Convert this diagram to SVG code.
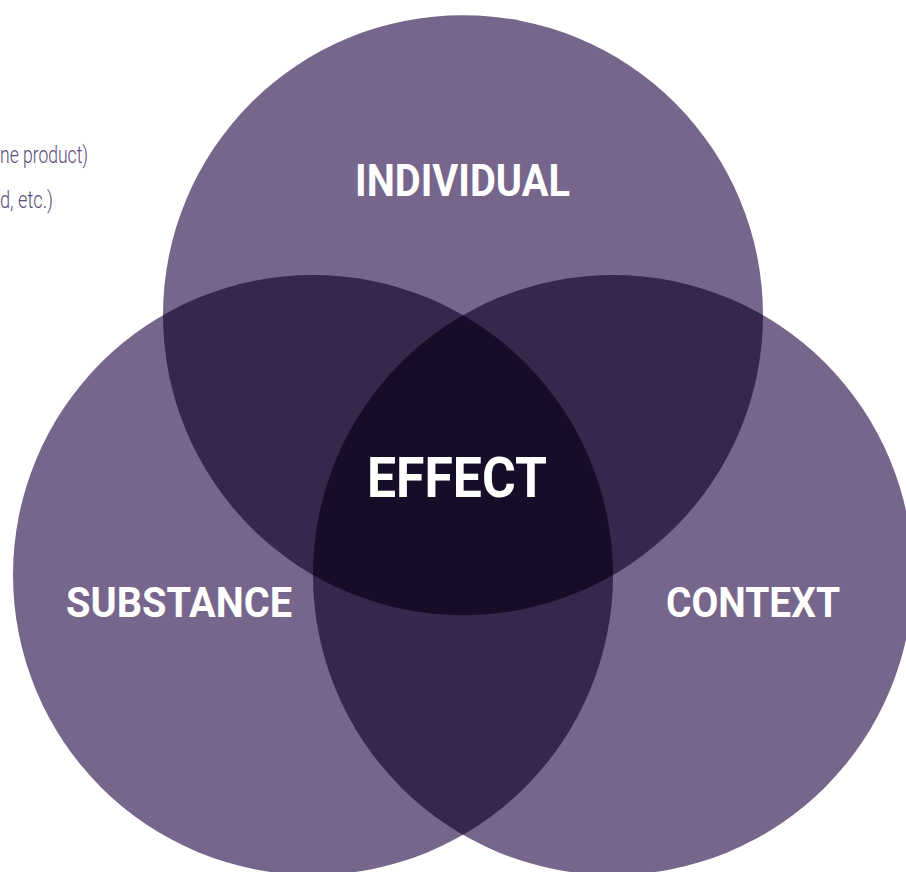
<svg xmlns="http://www.w3.org/2000/svg" width="906" height="872" viewBox="0 0 906 872">
<style>
.c1{fill:#76668c}
.c2{fill:#38274d}
.c3{fill:#170d28}
.lbl{font-family:Roboto,"Liberation Sans",sans-serif;font-weight:700;fill:#ffffff}
.note{font-family:Roboto,"Liberation Sans",sans-serif;font-weight:300;fill:#5a4a78;font-size:24px}
</style>
<defs>
<clipPath id="clipT"><circle cx="463" cy="315.2" r="300"/></clipPath>
<clipPath id="clipL"><circle cx="313" cy="575" r="300"/></clipPath>
<clipPath id="clipR"><circle cx="613" cy="575" r="300"/></clipPath>
</defs>
<rect width="906" height="872" fill="#ffffff"/>
<g id="notes">
<text class="note" x="0" y="163" textLength="88" lengthAdjust="spacingAndGlyphs">ne product)</text>
<text class="note" x="0" y="208" textLength="53" lengthAdjust="spacingAndGlyphs">d, etc.)</text>
</g>
<g id="individual">
<circle class="c1" cx="463" cy="315.2" r="300"/>
</g>
<g id="substance">
<circle class="c1" cx="313" cy="575" r="300"/>
</g>
<g id="context">
<circle class="c1" cx="613" cy="575" r="300"/>
</g>
<g id="overlaps">
<circle class="c2" cx="313" cy="575" r="300" clip-path="url(#clipT)"/>
<circle class="c2" cx="613" cy="575" r="300" clip-path="url(#clipT)"/>
<circle class="c2" cx="613" cy="575" r="300" clip-path="url(#clipL)"/>
<g clip-path="url(#clipT)"><circle class="c3" cx="613" cy="575" r="300" clip-path="url(#clipL)"/></g>
</g>
<g id="labels">
<text class="lbl" x="355" y="196" font-size="45" textLength="215" lengthAdjust="spacingAndGlyphs">INDIVIDUAL</text>
<text class="lbl" x="367" y="497" font-size="55" textLength="180" lengthAdjust="spacingAndGlyphs">EFFECT</text>
<text class="lbl" x="66" y="617" font-size="42" textLength="226" lengthAdjust="spacingAndGlyphs">SUBSTANCE</text>
<text class="lbl" x="666" y="617" font-size="42" textLength="174" lengthAdjust="spacingAndGlyphs">CONTEXT</text>
</g>
</svg>
